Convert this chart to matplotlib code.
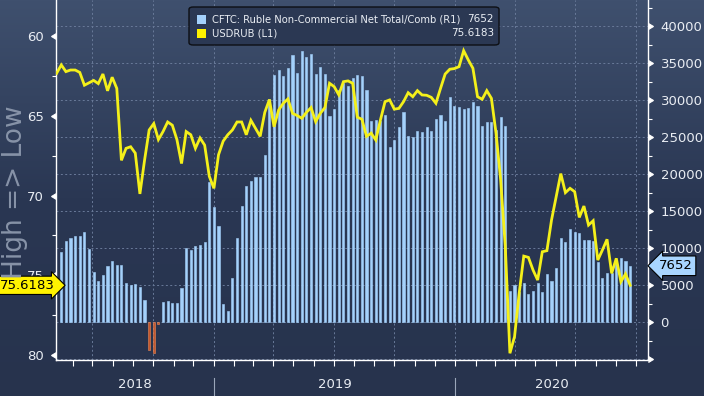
import matplotlib
matplotlib.use('Agg')
import matplotlib.pyplot as plt
import matplotlib.dates as mdates
import matplotlib.transforms as mtransforms
from matplotlib.markers import CARETLEFTBASE, CARETRIGHTBASE
from matplotlib.patches import FancyBboxPatch, Rectangle
import numpy as np
import pandas as pd

# weekly CFTC positioning (R1) and USDRUB (L1)
cftc_dates = pd.date_range('2018-05-15', periods=124, freq='7D')
cftc_net = [
    9550, 10990, 11350, 11670, 11670, 12210, 9910, 6760, 5590, 6350,
    7570, 8290, 7700, 7700, 5270, 5050, 5180, 4780, 2970, -3740,
    -4100, -200, 2700, 2880, 2610, 2610, 4680, 10050, 9780, 10320,
    10450, 10900, 19010, 15590, 13060, 2520, 1580, 6040, 11400, 15720,
    18470, 19100, 19690, 19690, 22660, 30140, 33380, 34100, 33290, 34320,
    36130, 33740, 36670, 35860, 36260, 33600, 34500, 33510, 27930, 28830,
    31350, 32340, 31940, 33060, 33420, 33290, 31440, 27250, 27340, 27210,
    28020, 23740, 24640, 26440, 28420, 25180, 25000, 25860, 25720, 26440,
    25860, 27480, 28020, 27210, 30500, 29240, 29050, 28830, 29010, 29820,
    29240, 26530, 27120, 27120, 25990, 27790, 26530, 4280, 5050, 4140,
    5360, 3830, 4280, 5270, 4140, 6530, 5590, 7300, 11400, 10810,
    12610, 12210, 12030, 11130, 11130, 10990, 8200, 6040, 6710, 6620,
    8060, 8740, 8290, 7652,
]

rub_dates = pd.date_range('2018-05-08', periods=125, freq='7D')
usdrub = [
    62.35, 61.83, 62.25, 62.15, 62.15, 62.3, 63.1, 62.95, 62.8, 63.0,
    62.4, 63.45, 62.6, 63.3, 67.8, 67.05, 66.95, 67.35, 69.9, 67.8,
    65.9, 65.5, 66.5, 66.0, 65.4, 65.6, 66.5, 68.0, 66.0, 66.2,
    67.05, 66.4, 66.85, 68.8, 69.55, 67.45, 66.6, 66.2, 65.9, 65.4,
    65.4, 66.2, 65.3, 65.8, 66.3, 64.8, 64.0, 65.7, 64.65, 64.23,
    63.96, 64.86, 65.0, 65.17, 64.8, 64.5, 65.38, 64.86, 64.5, 62.98,
    63.19, 63.7, 62.88, 62.83, 62.98, 65.1, 65.23, 66.3, 66.1, 66.53,
    65.28, 64.13, 64.02, 64.6, 64.55, 64.13, 63.57, 63.82, 63.44, 63.71,
    63.73, 63.86, 64.23, 63.3, 62.4, 62.1, 62.06, 61.94, 60.94, 61.52,
    62.04, 63.82, 63.98, 63.44, 63.92, 66.1, 69.03, 73.2, 79.87, 78.83,
    76.12, 73.79, 73.87, 74.66, 75.29, 73.52, 73.45, 71.53, 70.08, 68.63,
    69.82, 69.55, 69.76, 71.37, 70.66, 71.85, 71.58, 74.04, 73.41, 72.74,
    74.87, 73.93, 75.39, 74.91, 75.6183,
]

cftc_label = 'CFTC: Ruble Non-Commercial Net Total/Comb (R1)'
rub_label = 'USDRUB (L1)'
left_ticks = [60, 65, 70, 75, 80]
right_ticks = [-5000, 0, 5000, 10000, 15000, 20000, 25000, 30000, 35000, 40000]
years = [2018, 2019, 2020]

bar_blue = '#a4d1fb'
bar_orange = '#c4572c'
line_yellow = '#f4f01a'
txt = '#e9edf3'
grid_c = '#697a99'

plt.rcParams['font.family'] = ['DejaVu Sans']
fig = plt.figure(figsize=(7.04, 3.96), dpi=100)

# gradient backdrop
bg = fig.add_axes([0, 0, 1, 1], zorder=-10)
grad = np.linspace(0, 1, 256).reshape(-1, 1)
cmap = matplotlib.colors.LinearSegmentedColormap.from_list('bb', ['#3f506e', '#2a3753', '#27334d'])
bg.imshow(grad, aspect='auto', cmap=cmap, extent=[0, 1, 0, 1], origin='upper')
bg.axis('off')

ax = fig.add_axes([56 / 704, 36 / 396, 592 / 704, 360 / 396])
ax.set_facecolor('none')
ax2 = ax.twinx()

# bars on the right scale
colors = [bar_blue if v >= 0 else bar_orange for v in cftc_net]
edges = [bar_blue if v >= 0 else '#e98a5c' for v in cftc_net]
ax.bar(cftc_dates, cftc_net, width=3.2, color=colors, edgecolor=edges, linewidth=0.4, zorder=3)
ax.set_ylim(-5080, 43560)
ax.yaxis.tick_right()
ax.yaxis.set_label_position('right')
ax.set_yticks(right_ticks)
ax.set_yticklabels(['' if v < 0 else str(v) for v in right_ticks])
ax.set_yticks(np.arange(-5000, 42600, 2500), minor=True)
ax.tick_params(axis='y', which='major', colors='white', labelcolor=txt, labelsize=9.5, pad=4, length=5)
ax.tick_params(axis='y', which='minor', colors='white', length=3, width=0.8)

start, end = pd.Timestamp('2018-05-07'), pd.Timestamp('2020-10-19')
ax.set_xlim(start, end)
ax.xaxis.set_major_locator(mdates.MonthLocator(bymonth=[1, 4, 7, 10]))
ax.xaxis.set_minor_locator(mdates.MonthLocator())
ax.xaxis.set_major_formatter(matplotlib.ticker.NullFormatter())
ax.tick_params(axis='x', which='both', colors='white', length=4, width=0.8)
ax.grid(True, axis='both', which='major', color=grid_c, linestyle=(0, (2, 2.5)), linewidth=0.7, zorder=0)
ax.set_axisbelow(True)

for s in ax.spines.values():
    s.set_color('white')
    s.set_linewidth(1)
ax.spines['top'].set_visible(False)

# line on the inverted left scale
ax2.plot(rub_dates, usdrub, color=line_yellow, linewidth=2, zorder=5, solid_joinstyle='miter')
ax2.set_ylim(80.29, 57.77)
ax2.yaxis.tick_left()
ax2.yaxis.set_label_position('left')
ax2.set_yticks(left_ticks)
ax2.set_yticks([62.5, 67.5, 72.5, 77.5], minor=True)
ax2.tick_params(axis='y', which='major', colors='white', labelcolor=txt, labelsize=9.5, pad=4, length=5)
ax2.tick_params(axis='y', which='minor', colors='white', length=3, width=0.8)
for s in ax2.spines.values():
    s.set_visible(False)

for t in ax2.yaxis.get_major_ticks():
    t.tick1line.set_marker(CARETLEFTBASE)
    t.tick1line.set_markersize(5)
for t in ax.yaxis.get_major_ticks():
    t.tick2line.set_marker(CARETRIGHTBASE)
    t.tick2line.set_markersize(5)

# year captions and separators below the axis
trans = mtransforms.blended_transform_factory(ax.transData, ax.transAxes)
bounds = [start] + [pd.Timestamp(f'{y}-01-01') for y in years[1:]] + [end]
for i, y in enumerate(years):
    mid = bounds[i] + (bounds[i + 1] - bounds[i]) / 2
    ax.text(mid, -0.068, str(y), transform=trans, ha='center', va='center', color=txt, fontsize=9.5)
for b in bounds[1:-1]:
    ax.plot([b, b], [-0.05, -0.11], transform=trans, color='#9aa6ba', linewidth=0.8, clip_on=False)

# axis title
fig.text(15 / 704, 1 - 192 / 396, 'High => Low', rotation=90, ha='center', va='center',
         color='#8793a8', fontsize=19)

# last value tags
ax.annotate(str(cftc_net[-1]), xy=(1.0, cftc_net[-1]), xycoords=('axes fraction', 'data'),
            xytext=(1.018, cftc_net[-1]), textcoords=('axes fraction', 'data'),
            va='center', ha='left', fontsize=9.5, color='black',
            bbox=dict(boxstyle='larrow,pad=0.25', fc='#a8d5ff', ec='black', lw=0.8), annotation_clip=False)
ax2.annotate(f'{usdrub[-1]:.4f}', xy=(0, usdrub[-1]), xycoords=('axes fraction', 'data'),
             xytext=(-0.094, usdrub[-1]), textcoords=('axes fraction', 'data'),
             va='center', ha='left', fontsize=9.5, color='black',
             bbox=dict(boxstyle='rarrow,pad=0.2', fc='#fff200', ec='black', lw=0.8), annotation_clip=False)

# legend box
W, H = 704, 396
box = FancyBboxPatch((189 / W, 1 - 45 / H), 310 / W, 38 / H, boxstyle='round,pad=0,rounding_size=0.006',
                     transform=fig.transFigure, fc='#2b3853', ec='#0d0f14', lw=1, zorder=20)
fig.patches.append(box)
rows = [(cftc_label, str(cftc_net[-1]), bar_blue, 19.5), (rub_label, f'{usdrub[-1]:.4f}', '#fff200', 33)]
for lab, val, c, yy in rows:
    fig.patches.append(Rectangle((197 / W, 1 - (yy + 4.5) / H), 9 / W, 9 / H, transform=fig.transFigure,
                                 fc=c, ec='none', zorder=21))
    fig.text(212 / W, 1 - yy / H, lab, ha='left', va='center', color=txt, fontsize=7.2, zorder=22)
    fig.text(494 / W, 1 - yy / H, val, ha='right', va='center', color=txt, fontsize=7.5, zorder=22)

fig.savefig('out.png', dpi=100)
